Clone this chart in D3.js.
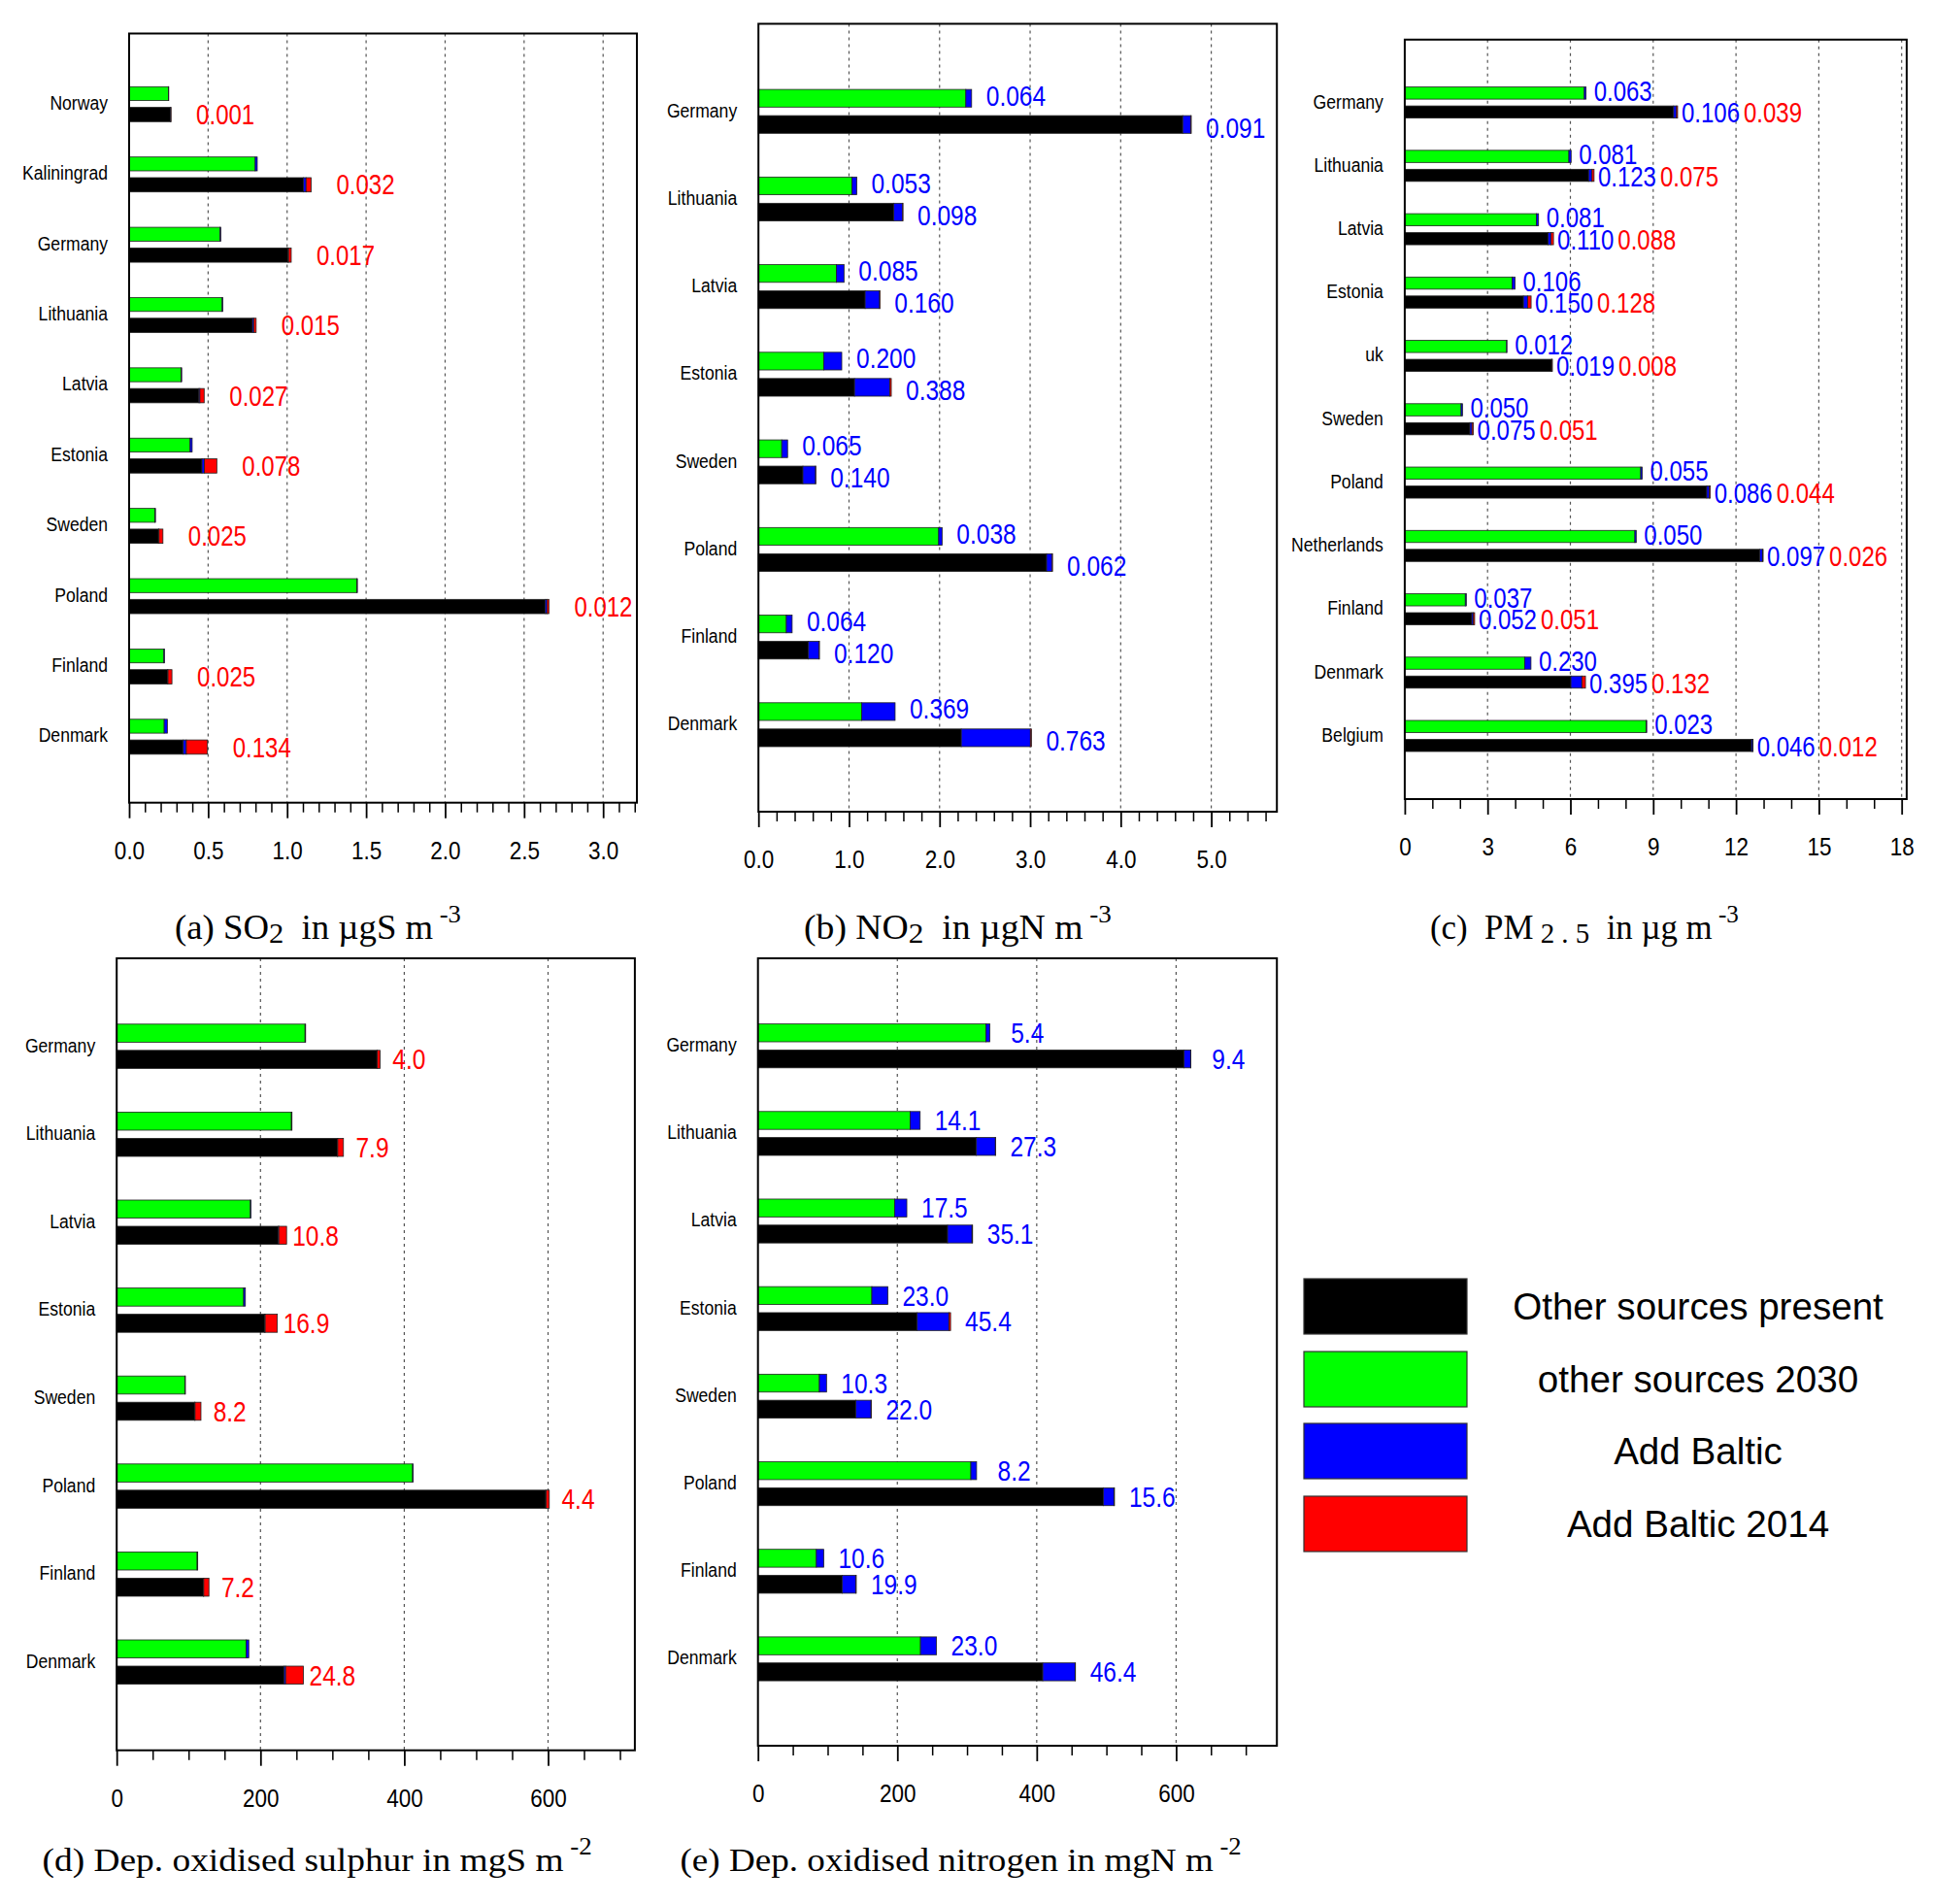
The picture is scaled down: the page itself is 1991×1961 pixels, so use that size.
<!DOCTYPE html>
<html>
<head>
<meta charset="utf-8">
<script src="https://cdn.jsdelivr.net/npm/d3@7/dist/d3.min.js"></script>
<style>
html,body{margin:0;padding:0;background:#fff;}
svg{display:block;}
</style>
</head>
<body>
<script>
// ---------------- DATA ----------------
const legendLabels = ["Other sources present", "other sources 2030", "Add Baltic", "Add Baltic 2014"];
const legendColors = ["#000000", "#00ff00", "#0000ff", "#ff0000"];

// (a) SO2
const catsA = ["Norway","Kaliningrad","Germany","Lithuania","Latvia","Estonia","Sweden","Poland","Finland","Denmark"];
const a_other2030    = [0.249, 0.798, 0.576, 0.589, 0.329, 0.386, 0.163, 1.441, 0.220, 0.222];
const a_baltic2030   = [0.002, 0.013, 0.004, 0.004, 0.004, 0.013, 0.004, 0.004, 0.004, 0.020];
const a_otherPresent = [0.262, 1.104, 1.005, 0.781, 0.442, 0.461, 0.186, 2.635, 0.242, 0.343];
const a_balticPresent= [0.002, 0.016, 0.004, 0.008, 0.006, 0.016, 0.003, 0.010, 0.004, 0.019];
const a_baltic2014   = [0.001, 0.032, 0.017, 0.015, 0.027, 0.078, 0.025, 0.012, 0.025, 0.134];
const a_ticks = [0, 0.5, 1.0, 1.5, 2.0, 2.5, 3.0];

// (b) NO2
const catsB = ["Germany","Lithuania","Latvia","Estonia","Sweden","Poland","Finland","Denmark"];
const b_other2030    = [2.290, 1.033, 0.860, 0.720, 0.257, 1.990, 0.308, 1.140];
const b_baltic2030   = [0.064, 0.053, 0.085, 0.200, 0.065, 0.038, 0.064, 0.369];
const b_otherPresent = [4.685, 1.495, 1.178, 1.061, 0.491, 3.182, 0.551, 2.240];
const b_balticPresent= [0.091, 0.098, 0.160, 0.388, 0.140, 0.062, 0.120, 0.763];
const b_baltic2014   = [0.003, 0.003, 0.003, 0.018, 0.002, 0.003, 0.002, 0.012];
const b_ticks = [0, 1, 2, 3, 4, 5];

// (c) PM2.5
const catsC = ["Germany","Lithuania","Latvia","Estonia","uk","Sweden","Poland","Netherlands","Finland","Denmark","Belgium"];
const c_other2030    = [6.505, 5.946, 4.766, 3.888, 3.690, 2.042, 8.548, 8.336, 2.194, 4.342, 8.744];
const c_baltic2030   = [0.063, 0.081, 0.081, 0.106, 0.012, 0.050, 0.055, 0.050, 0.037, 0.230, 0.023];
const c_otherPresent = [9.740, 6.660, 5.190, 4.300, 5.320, 2.360, 10.940, 12.860, 2.430, 6.020, 12.560];
const c_balticPresent= [0.106, 0.123, 0.110, 0.150, 0.019, 0.075, 0.086, 0.097, 0.052, 0.395, 0.046];
const c_baltic2014   = [0.039, 0.075, 0.088, 0.128, 0.008, 0.051, 0.044, 0.026, 0.051, 0.132, 0.012];
const c_ticks = [0, 3, 6, 9, 12, 15, 18];

// (d) Dep. oxidised sulphur
const catsD = ["Germany","Lithuania","Latvia","Estonia","Sweden","Poland","Finland","Denmark"];
const d_other2030    = [262.0, 243.0, 186.0, 176.6, 94.8, 411.6, 111.9, 180.2];
const d_baltic2030   = [0.8, 0.8, 0.8, 2.4, 0.8, 0.8, 0.8, 3.5];
const d_otherPresent = [362.0, 307.0, 225.0, 205.5, 108.5, 596.8, 120.6, 233.0];
const d_balticPresent= [0.5, 0.5, 0.5, 1.0, 0.5, 0.5, 0.5, 2.0];
const d_baltic2014   = [4.0, 7.9, 10.8, 16.9, 8.2, 4.4, 7.2, 24.8];
const d_ticks = [0, 200, 400, 600];

// (e) Dep. oxidised nitrogen
const catsE = ["Germany","Lithuania","Latvia","Estonia","Sweden","Poland","Finland","Denmark"];
const e_other2030    = [327.3, 218.6, 196.1, 163.4, 88.1, 305.5, 83.8, 233.2];
const e_baltic2030   = [5.4, 14.1, 17.5, 23.0, 10.3, 8.2, 10.6, 23.0];
const e_otherPresent = [611.5, 313.4, 272.1, 228.5, 140.3, 495.5, 120.8, 408.7];
const e_balticPresent= [9.4, 27.3, 35.1, 45.4, 22.0, 15.6, 19.9, 46.4];
const e_baltic2014   = [0.3, 0.3, 0.8, 2.5, 0.3, 0.5, 0.3, 0.5];
const e_ticks = [0, 200, 400, 600];

// ---------------- LAYOUT ----------------
const W = 1991, H = 1961;
const SANS = "'Liberation Sans', Arial, Helvetica, sans-serif";
const SERIF = "'Liberation Serif', 'Times New Roman', serif";
const SY = 1.2;   // vertical stretch of plot text
const C = {black:"#000000", green:"#00ff00", blue:"#0000ff", red:"#ff0000"};

const panels = [
  {cats:catsA, g:a_other2030, gb:a_baltic2030, k:a_otherPresent, kb:a_balticPresent, kr:a_baltic2014,
   ticks:a_ticks, fmt:d3.format(".1f"), minorStep:0.1, zeroAt:133, tickAt:[3.0,621.2],
   box:{l:133,r:656,t:34.5,b:826.7}, c0:107, c1:758.5, bar:[-17.7,-3.4,3.6,18.3],
   labelMode:"red", valFmt:d3.format(".3f"), lfs:24, off:26, pad:false, gdy:0, kdy:0},
  {cats:catsB, g:b_other2030, gb:b_baltic2030, k:b_otherPresent, kb:b_balticPresent, kr:b_baltic2014,
   ticks:b_ticks, fmt:d3.format(".1f"), minorStep:0.2, zeroAt:781.2, tickAt:[5,1247.6],
   box:{l:781.2,r:1315.2,t:24.5,b:836}, c0:114.7, c1:746.4, bar:[-22.6,-4.4,4.4,22.6],
   labelMode:"blue", valFmt:d3.format(".3f"), lfs:24.5, off:15, pad:false, gdy:-3, kdy:3},
  {cats:catsC, g:c_other2030, gb:c_baltic2030, k:c_otherPresent, kb:c_balticPresent, kr:c_baltic2014,
   ticks:c_ticks, fmt:d3.format("d"), minorStep:1, zeroAt:1446.9, tickAt:[18,1958.7],
   box:{l:1446.9,r:1963.9,t:40.8,b:823}, c0:105.6, c1:758, bar:[-16,-3.5,3.5,16],
   labelMode:"both", valFmt:d3.format(".3f"), lfs:24, off:8, koff:4, pad:false, gdy:-2, kdy:1},
  {cats:catsD, g:d_other2030, gb:d_baltic2030, k:d_otherPresent, kb:d_balticPresent, kr:d_baltic2014,
   ticks:d_ticks, fmt:d3.format("d"), minorStep:50, zeroAt:120.2, tickAt:[600,564.5],
   box:{l:120.2,r:653.9,t:987,b:1802.7}, c0:1077.6, c1:1711.8, bar:[-22.8,-4.2,4.2,22.8],
   labelMode:"red", valFmt:d3.format(".1f"), lfs:24.5, off:6, pad:true, gdy:0, kdy:0},
  {cats:catsE, g:e_other2030, gb:e_baltic2030, k:e_otherPresent, kb:e_balticPresent, kr:e_baltic2014,
   ticks:e_ticks, fmt:d3.format("d"), minorStep:50, zeroAt:780.7, tickAt:[600,1211.4],
   box:{l:780.7,r:1315.2,t:987,b:1798}, c0:1077.2, c1:1708.5, bar:[-22.6,-4.2,4.2,22.6],
   labelMode:"blue", valFmt:d3.format(".1f"), lfs:24.5, off:15, pad:true, gdy:0, kdy:0}
];

// caption parts: kind 0 = normal, 1 = subscript, 2 = superscript
const captions = [
  {x0:180, x1:475, y:967, fs:35, parts:[["(a) SO",0],["2",1],["  in µgS m",0],[" -3",2]]},
  {x0:828, x1:1145, y:967, fs:35, parts:[["(b) NO",0],["2",1],["  in µgN m",0],[" -3",2]]},
  {x0:1473, x1:1791, y:967, fs:35, parts:[["(c)  PM",0],[" 2 . 5",1],["  in µg m",0],[" -3",2]]},
  {x0:43.5, x1:610, y:1927, fs:34, parts:[["(d) Dep. oxidised sulphur in mgS m",0],[" -2",2]]},
  {x0:700.5, x1:1279, y:1927, fs:34, parts:[["(e) Dep. oxidised nitrogen in mgN m",0],[" -2",2]]}
];

// ---------------- DRAW ----------------
const svg = d3.select("body").append("svg").attr("width", W).attr("height", H)
  .attr("viewBox", `0 0 ${W} ${H}`);
svg.append("rect").attr("width", W).attr("height", H).attr("fill", "#fff");

function stretchedText(g, x, y, str, fs, anchor, color) {
  return g.append("text")
    .attr("transform", `translate(${x},${y}) scale(1,${SY})`)
    .attr("dy", "0.35em")
    .attr("text-anchor", anchor)
    .attr("font-family", SANS)
    .attr("font-size", fs)
    .attr("fill", color)
    .style("white-space", "pre")
    .text(str);
}

panels.forEach(p => {
  const g = svg.append("g");
  const {l, r, t, b} = p.box;
  const pxPerUnit = (p.tickAt[1] - p.zeroAt) / p.tickAt[0];
  const xMax = (r - p.zeroAt) / pxPerUnit;
  const x = d3.scaleLinear().domain([0, xMax]).range([p.zeroAt, r]);
  const y = d3.scalePoint().domain(p.cats).range([p.c0, p.c1]);

  // gridlines
  g.append("g").selectAll("line").data(p.ticks.filter(v => v > 0)).join("line")
    .attr("x1", d => x(d)).attr("x2", d => x(d))
    .attr("y1", t).attr("y2", b)
    .attr("stroke", "#555").attr("stroke-width", 1.2)
    .attr("stroke-dasharray", "3,4");

  // bars
  p.cats.forEach((c, i) => {
    const cy = y(c);
    const gSegs = [[0, p.g[i], C.green], [p.g[i], p.g[i] + p.gb[i], C.blue]];
    const k1 = p.k[i], k2 = k1 + p.kb[i], k3 = k2 + p.kr[i];
    const kSegs = [[0, k1, C.black], [k1, k2, C.blue], [k2, k3, C.red]];
    g.append("g").selectAll("rect").data(gSegs).join("rect")
      .attr("x", d => x(d[0])).attr("width", d => Math.max(0, x(d[1]) - x(d[0])))
      .attr("y", cy + p.bar[0]).attr("height", p.bar[1] - p.bar[0])
      .attr("fill", d => d[2]).attr("stroke", "#222").attr("stroke-width", 0.8);
    g.append("g").selectAll("rect").data(kSegs).join("rect")
      .attr("x", d => x(d[0])).attr("width", d => Math.max(0, x(d[1]) - x(d[0])))
      .attr("y", cy + p.bar[2]).attr("height", p.bar[3] - p.bar[2])
      .attr("fill", d => d[2]).attr("stroke", "#222").attr("stroke-width", 0.8);

    const gEnd = x(p.g[i] + p.gb[i]);
    const kEnd = x(k3);
    const gcy = cy + (p.bar[0] + p.bar[1]) / 2 + p.gdy;
    const kcy = cy + (p.bar[2] + p.bar[3]) / 2 + p.kdy;
    const padOff = s => p.pad ? (4 - s.length) * 6.7 : 0;

    if (p.labelMode === "red") {
      const s = p.valFmt(p.kr[i]);
      stretchedText(g, kEnd + p.off + padOff(s), kcy, s, p.lfs, "start", C.red);
    } else if (p.labelMode === "blue") {
      const s1 = p.valFmt(p.gb[i]);
      stretchedText(g, gEnd + p.off + padOff(s1), gcy, s1, p.lfs, "start", C.blue);
      const s2 = p.valFmt(p.kb[i]);
      stretchedText(g, kEnd + p.off + padOff(s2), kcy, s2, p.lfs, "start", C.blue);
    } else {
      stretchedText(g, gEnd + p.off, gcy, p.valFmt(p.gb[i]), p.lfs, "start", C.blue);
      const tx = stretchedText(g, kEnd + p.koff, kcy, "", p.lfs, "start", C.blue);
      tx.append("tspan").attr("fill", C.blue).text(p.valFmt(p.kb[i]));
      tx.append("tspan").attr("fill", C.red).attr("dx", 4).text(p.valFmt(p.kr[i]));
    }

    // category label
    stretchedText(g, l - 22, cy - 1.5, c, 17.6, "end", "#000");
  });

  // minor ticks
  const minors = d3.range(0, xMax + 1e-9, p.minorStep)
    .filter(v => !p.ticks.some(tv => Math.abs(tv - v) < p.minorStep / 10));
  const minorAxis = d3.axisBottom(x).tickValues(minors).tickSize(10).tickSizeOuter(0).tickFormat("");
  const gm = g.append("g").attr("transform", `translate(0,${b})`).call(minorAxis);
  gm.select(".domain").remove();
  gm.selectAll("line").attr("stroke", "#000").attr("stroke-width", 1.5);

  // major ticks + labels
  const majorAxis = d3.axisBottom(x).tickValues(p.ticks).tickSize(16).tickSizeOuter(0).tickFormat(p.fmt);
  const ga = g.append("g").attr("transform", `translate(0,${b})`).call(majorAxis);
  ga.select(".domain").remove();
  ga.selectAll("line").attr("stroke", "#000").attr("stroke-width", 1.8);
  ga.selectAll("text")
    .attr("y", 0).attr("dy", "0.35em")
    .attr("transform", `translate(0,49) scale(1,1.18)`)
    .attr("font-family", SANS).attr("font-size", 22.5).attr("fill", "#000");

  // frame
  g.append("rect").attr("x", l).attr("y", t).attr("width", r - l).attr("height", b - t)
    .attr("fill", "none").attr("stroke", "#000").attr("stroke-width", 2);
});

// captions
captions.forEach(cap => {
  const tx = svg.append("text")
    .attr("x", 0).attr("y", 0)
    .attr("font-family", SERIF).attr("font-size", cap.fs).attr("fill", "#000")
    .style("white-space", "pre");
  let shift = 0;
  cap.parts.forEach(([s, kind]) => {
    const target = kind === 1 ? 4 : kind === 2 ? -17 : 0;
    const ts = tx.append("tspan").text(s).attr("dy", target - shift);
    shift = target;
    if (kind === 1) ts.attr("font-size", cap.fs * 0.83);
    if (kind === 2) ts.attr("font-size", cap.fs * 0.72);
  });
  const w = tx.node().getComputedTextLength();
  const sx = (cap.x1 - cap.x0) / w;
  tx.attr("transform", `translate(${cap.x0},${cap.y}) scale(${sx},1)`);
});

// legend
const lg = svg.append("g");
const legTops = [1317, 1392, 1466, 1541];
legendLabels.forEach((lab, i) => {
  lg.append("rect").attr("x", 1343).attr("y", legTops[i]).attr("width", 168).attr("height", 57)
    .attr("fill", legendColors[i]).attr("stroke", "#333").attr("stroke-width", 1.2);
  lg.append("text").attr("x", 1749).attr("y", legTops[i] + 28.5).attr("dy", "0.35em")
    .attr("text-anchor", "middle").attr("font-family", SANS).attr("font-size", 38.6)
    .attr("fill", "#000").text(lab);
});
</script>
</body>
</html>
